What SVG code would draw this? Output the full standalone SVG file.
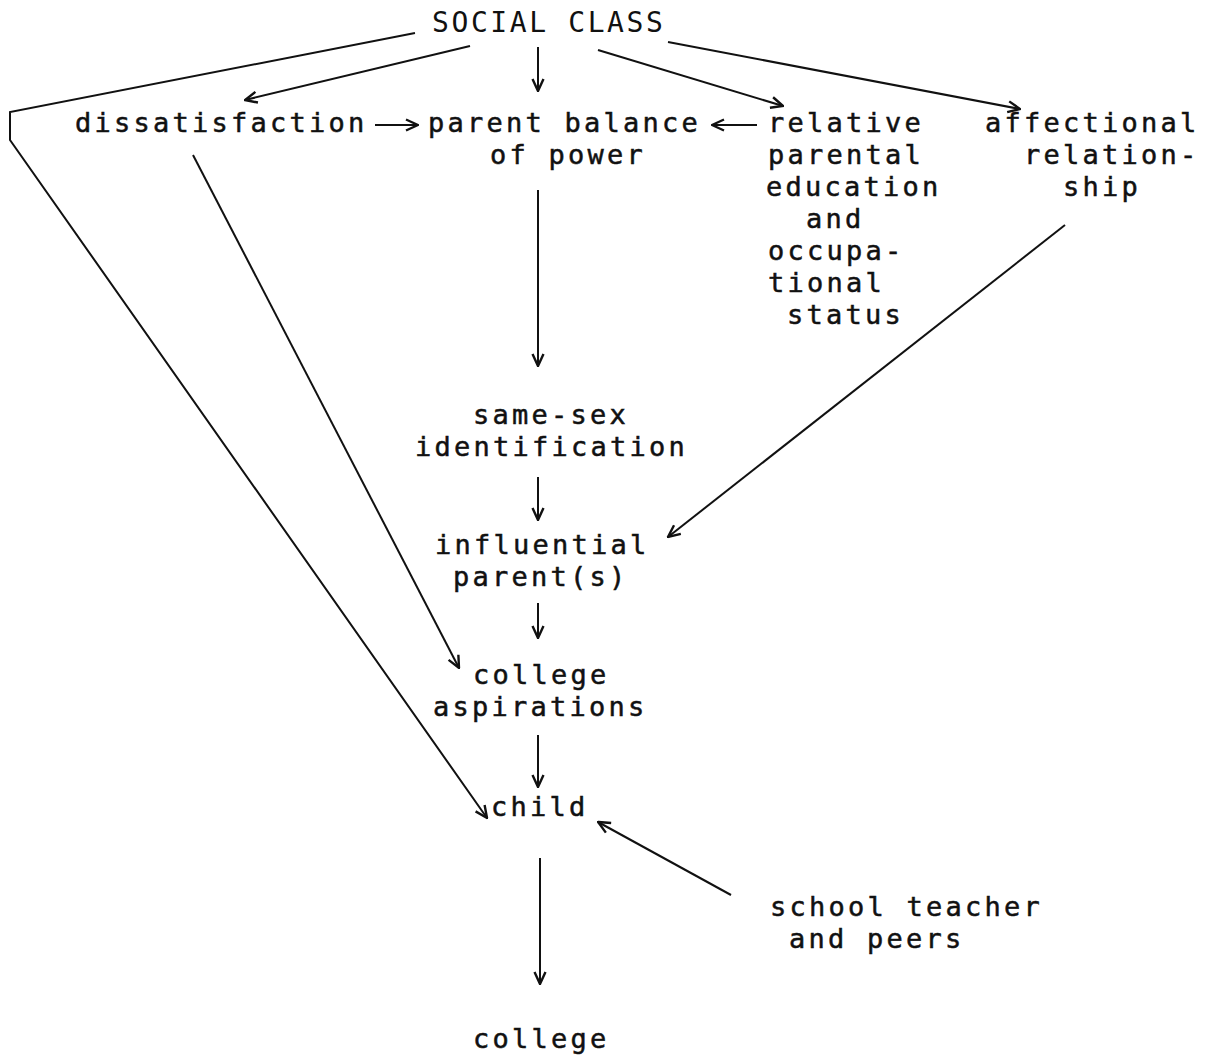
<svg xmlns="http://www.w3.org/2000/svg" width="1212" height="1060" viewBox="0 0 1212 1060">
<style>
text{font-family:"DejaVu Sans Mono","Liberation Mono",monospace;font-size:27px;letter-spacing:3.25px;fill:#111;stroke:#111;stroke-width:0.5px}
text.title{stroke-width:0;font-size:28px;letter-spacing:2.6px}
.c line,.c polyline{stroke:#111;stroke-width:2;fill:none}
</style>
<defs>
<marker id="ah" viewBox="0 0 14 14" refX="13" refY="7" markerWidth="14" markerHeight="14" markerUnits="userSpaceOnUse" orient="auto">
<path d="M1,1.5 L13,7 L1,12.5" fill="none" stroke="#111" stroke-width="2.4"/>
</marker>
</defs>
<rect width="1212" height="1060" fill="#fff"/>
<g id="n-social"><text class="title" x="432" y="32">SOCIAL CLASS</text></g>
<g id="n-dissatisfaction"><text x="75" y="132">dissatisfaction</text></g>
<g id="n-balance"><text x="428" y="132">parent balance</text><text x="490" y="164">of power</text></g>
<g id="n-relative"><text x="768" y="132">relative</text><text x="768" y="164">parental</text><text x="766" y="196">education</text><text x="806" y="228">and</text><text x="768" y="260">occupa-</text><text x="768" y="292">tional</text><text x="787" y="324">status</text></g>
<g id="n-affectional"><text x="985" y="132">affectional</text><text x="1024" y="164">relation-</text><text x="1063" y="196">ship</text></g>
<g id="n-samesex"><text x="473" y="424">same-sex</text><text x="415" y="456">identification</text></g>
<g id="n-influential"><text x="435" y="554">influential</text><text x="453" y="586">parent(s)</text></g>
<g id="n-aspirations"><text x="473" y="684">college</text><text x="433" y="716">aspirations</text></g>
<g id="n-child"><text x="491" y="816">child</text></g>
<g id="n-school"><text x="770" y="916">school teacher</text><text x="789" y="948">and peers</text></g>
<g id="n-college"><text x="473" y="1048">college</text></g>
<g class="c" id="connectors">
<polyline points="415,33 10,112 10,140 487,818" marker-end="url(#ah)"/>
<line x1="470" y1="46" x2="245" y2="100" marker-end="url(#ah)"/>
<line x1="538" y1="47" x2="538" y2="91" marker-end="url(#ah)"/>
<line x1="598" y1="50" x2="783" y2="106" marker-end="url(#ah)"/>
<line x1="668" y1="42" x2="1020" y2="109" marker-end="url(#ah)"/>
<line x1="375" y1="125" x2="418" y2="125" marker-end="url(#ah)"/>
<line x1="757" y1="125" x2="712" y2="125" marker-end="url(#ah)"/>
<line x1="538" y1="190" x2="538" y2="366" marker-end="url(#ah)"/>
<line x1="1065" y1="225" x2="668" y2="537" marker-end="url(#ah)"/>
<line x1="193" y1="155" x2="459" y2="668" marker-end="url(#ah)"/>
<line x1="538" y1="477" x2="538" y2="520" marker-end="url(#ah)"/>
<line x1="538" y1="603" x2="538" y2="638" marker-end="url(#ah)"/>
<line x1="538" y1="735" x2="538" y2="787" marker-end="url(#ah)"/>
<line x1="731" y1="895" x2="598" y2="822" marker-end="url(#ah)"/>
<line x1="540" y1="858" x2="540" y2="984" marker-end="url(#ah)"/>
</g>
</svg>
